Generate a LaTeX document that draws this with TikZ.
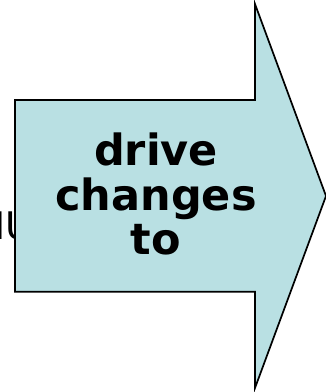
\documentclass[tikz,border=0pt]{standalone}
\usepackage{fontspec}
\newfontfamily\arrowfont{DejaVu Sans}
\definecolor{arrowfill}{RGB}{185,224,227}

\begin{document}
\begin{tikzpicture}[x=1pt, y=1pt,
  arrowbox/.style={draw=black, line width=1.7pt, fill=arrowfill, line join=miter},
  arrowtext/.style={align=center, inner sep=0pt, font=\arrowfont\bfseries\fontsize{43}{44.5}\selectfont},
  behind/.style={inner sep=0pt, anchor=base west, font=\arrowfont\fontsize{38}{44}\selectfont}
]
\useasboundingbox (0,0) rectangle (326,392);
\clip (0,0) rectangle (326,392);

% text partly hidden by the arrow
\node[behind] (hidden) at (-5.6,152) {IU};

% the arrow
\coordinate (shaftlow) at (15,100.3);
\coordinate (shafthigh) at (15,292);
\coordinate (tip) at (326,196);
\draw[arrowbox] (shaftlow) -- (shafthigh) -- (255,292) -- (255,388)
  -- (tip) -- (255,4) -- (255,100.3) -- cycle;

\node[arrowtext] (drive) at (156,198) {drive\\changes\\to};
\end{tikzpicture}
\end{document}
